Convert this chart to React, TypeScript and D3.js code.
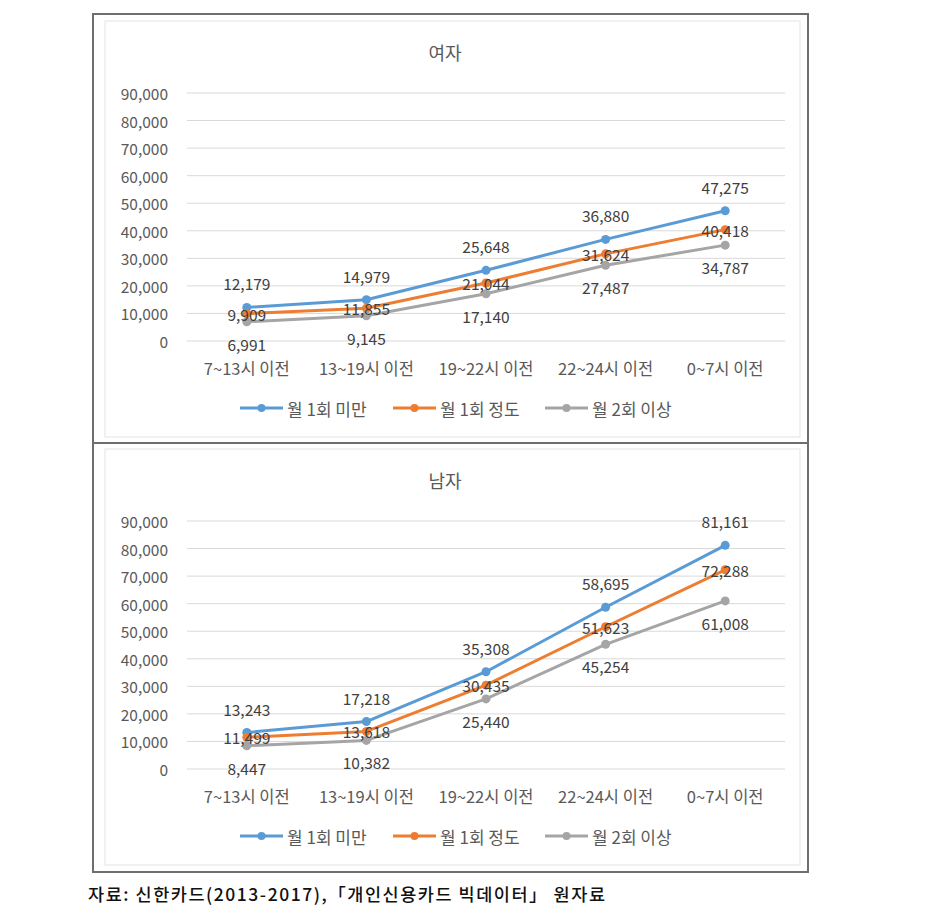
import * as d3 from 'd3'

// categories / series
const categories = ['7~13시 이전', '13~19시 이전', '19~22시 이전', '22~24시 이전', '0~7시 이전']
const seriesNames = ['월 1회 미만', '월 1회 정도', '월 2회 이상']
const seriesColors = ['#5B9BD5', '#ED7D31', '#A5A5A5']
const yTicks = [0, 10000, 20000, 30000, 40000, 50000, 60000, 70000, 80000, 90000]

const femaleLess = [12179, 14979, 25648, 36880, 47275]
const femaleOnce = [9909, 11855, 21044, 31624, 40418]
const femaleMore = [6991, 9145, 17140, 27487, 34787]

const maleLess = [13243, 17218, 35308, 58695, 81161]
const maleOnce = [11499, 13618, 30435, 51623, 72288]
const maleMore = [8447, 10382, 25440, 45254, 61008]

const sourceText = '자료: 신한카드(2013-2017),「개인신용카드 빅데이터」 원자료'

const font = '"Noto Sans CJK KR", "Malgun Gothic", sans-serif'
const fmt = d3.format(',')

// label placement per series: above, centre, below
const labelDy = [-24, 0, 22]

interface PanelProps {
    title: string
    series: number[][]
    top: number
}

const Panel = (props: PanelProps) => {
    const off = props.top
    const x = d3.scaleBand().domain(categories).range([187, 785])
    const y = d3.scaleLinear().domain([0, 90000]).range([off + 341, off + 93])
    const cx = (c: string) => (x(c) as number) + x.bandwidth() / 2

    const line = d3.line<number>()
        .x((_, i) => cx(categories[i]))
        .y(d => y(d))

    const legendX = [240, 393, 545]

    return (
        <g>
            <rect x={105} y={off + 21} width={695} height={416} fill='#fff' stroke='#e3e3e3' strokeWidth={1} />
            <text x={445} y={off + 52} textAnchor='middle' dominantBaseline='central'
                fontSize={18} fill='#595959' fontFamily={font}>{props.title}</text>
            {yTicks.map(t => (
                <g key={t}>
                    <line x1={187} x2={785} y1={y(t)} y2={y(t)} stroke='#d9d9d9' strokeWidth={1} />
                    <text x={168} y={y(t)} textAnchor='end' dominantBaseline='central'
                        fontSize={15.5} fill='#595959' fontFamily={font}>{fmt(t)}</text>
                </g>
            ))}
            {categories.map(c => (
                <text key={c} x={cx(c)} y={off + 368} textAnchor='middle' dominantBaseline='central'
                    fontSize={16.5} fill='#595959' fontFamily={font}>{c}</text>
            ))}
            {props.series.map((s, si) => (
                <g key={si}>
                    <path d={line(s) as string} fill='none' stroke={seriesColors[si]} strokeWidth={3} strokeLinejoin='round' />
                    {s.map((v, i) => (
                        <circle key={i} cx={cx(categories[i])} cy={y(v)} r={4.5} fill={seriesColors[si]} />
                    ))}
                </g>
            ))}
            {props.series.map((s, si) => s.map((v, i) => (
                <text key={`${si}-${i}`} x={cx(categories[i])} y={y(v) + labelDy[si]}
                    textAnchor='middle' dominantBaseline='central'
                    fontSize={15.5} fill='#404040' fontFamily={font}>{fmt(v)}</text>
            )))}
            {seriesNames.map((n, si) => (
                <g key={n} transform={`translate(${legendX[si]},${off + 408})`}>
                    <line x1={0} x2={43} y1={0} y2={0} stroke={seriesColors[si]} strokeWidth={3} />
                    <circle cx={21.5} cy={0} r={4} fill={seriesColors[si]} />
                    <text x={47} y={0} dominantBaseline='central' fontSize={17}
                        fill='#595959' fontFamily={font}>{n}</text>
                </g>
            ))}
        </g>
    )
}

const App = () => {
    return (
        <svg width={932} height={919} style={{ position: 'absolute', left: 0, top: 0, background: '#fff' }}>
            <rect x={0} y={0} width={932} height={919} fill='#fff' />
            <Panel title='여자' series={[femaleLess, femaleOnce, femaleMore]} top={0} />
            <Panel title='남자' series={[maleLess, maleOnce, maleMore]} top={428} />
            <rect x={93} y={14} width={715} height={858} fill='none' stroke='#6e6e6e' strokeWidth={2} />
            <line x1={93} x2={808} y1={443} y2={443} stroke='#6e6e6e' strokeWidth={2} />
            <text x={88} y={893} dominantBaseline='central' fontSize={17.5} fontWeight={500}
                textLength={517} lengthAdjust='spacing'
                fill='#111' fontFamily={font}>{sourceText}</text>
        </svg>
    )
}

export default App
